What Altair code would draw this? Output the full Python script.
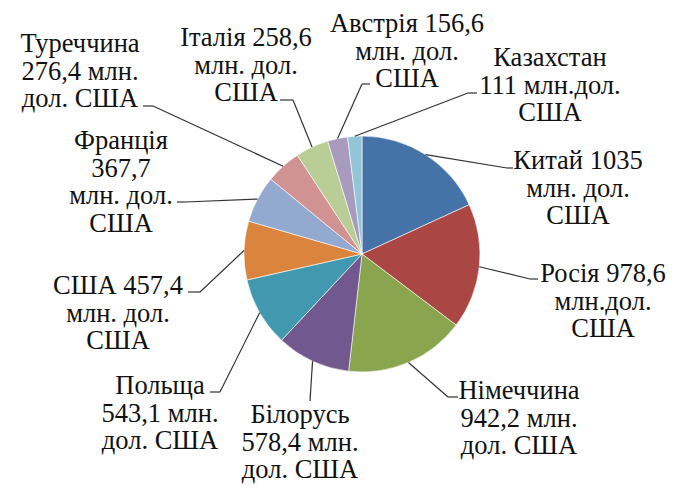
import altair as alt
import pandas as pd

# ---- data ----
countries = ["Китай", "Росія", "Німеччина", "Білорусь", "Польща", "США",
             "Франція", "Туреччина", "Італія", "Австрія", "Казахстан"]
values = [1035, 978.6, 942.2, 578.4, 543.1, 457.4, 367.7, 276.4, 258.6, 156.6, 111]
labels = [
    ["Китай 1035", "млн. дол.", "США"],
    ["Росія 978,6", "млн.дол.", "США"],
    ["Німеччина", "942,2 млн.", "дол. США"],
    ["Білорусь", "578,4 млн.", "дол. США"],
    ["Польща", "543,1 млн.", "дол. США"],
    ["США 457,4", "млн. дол.", "США"],
    ["Франція", "367,7", "млн. дол.", "США"],
    ["Туреччина", "276,4 млн.", "дол. США"],
    ["Італія 258,6", "млн. дол.", "США"],
    ["Австрія 156,6", "млн. дол.", "США"],
    ["Казахстан", "111 млн.дол.", "США"],
]
colors = ["#4572A7", "#AA4643", "#89A54E", "#71588F", "#4198AF", "#DB843D",
          "#93A9CF", "#D19392", "#B9CD96", "#A99BBD", "#92C5D7"]

# ---- layout (page pixels) ----
M = 8
CX, CY, R = 362, 254, 118
label_x = [578, 603, 519, 300, 160, 118, 121, 80, 246, 407, 550]
label_y = [160, 273, 390, 414, 385, 285, 140, 43, 37, 23, 57]
elbow_x = [507, 530, 448, 310, 220, 200, 185, 153, 293, 362, 468]
elbow_y = [168, 279, 397, 401, 392, 292, 202, 106, 100, 84, 93]
end_x = [513, 538, 458, 310, 210, 188, 177, 143, 280, 370, 477]
end_y = [168, 279, 397, 401, 392, 292, 202, 106, 100, 84, 93]
LINE_H = 27.8
FONT_SIZE = 26.5
CAP_OFF = 8.8
FONT = "Liberation Serif"

df = pd.DataFrame({
    "idx": list(range(len(countries))),
    "country": countries,
    "value": values,
    "ex1": [v - M for v in elbow_x],
    "ey1": [v - M for v in elbow_y],
    "ex2": [v - M for v in end_x],
    "ey2": [v - M for v in end_y],
})

rows = []
for i, lines in enumerate(labels):
    for j, t in enumerate(lines):
        rows.append({"text": t, "tx": label_x[i] - M,
                     "ty": label_y[i] - M + CAP_OFF + j * LINE_H})
tdf = pd.DataFrame(rows)

pie = alt.Chart(df).mark_arc(radius=R, stroke="#ffffff", strokeWidth=0.6).encode(
    theta=alt.Theta("value:Q", stack=True),
    order=alt.Order("idx:Q", sort="ascending"),
    color=alt.Color("country:N", scale=alt.Scale(domain=countries, range=colors), legend=None),
    x=alt.value(CX - M),
    y=alt.value(CY - M),
)

base = alt.Chart(df).transform_joinaggregate(
    total="sum(value)"
).transform_window(
    cum="sum(value)", sort=[alt.SortField("idx", order="ascending")], frame=[None, 0]
).transform_calculate(
    mid="(datum.cum - datum.value / 2) / datum.total * 2 * PI"
).transform_calculate(
    sx=f"{CX - M} + {R} * sin(datum.mid)",
    sy=f"{CY - M} - {R} * cos(datum.mid)",
)

lead1 = base.mark_rule(color="#333333", strokeWidth=1.2).encode(
    x=alt.X("sx:Q", scale=None, axis=None),
    y=alt.Y("sy:Q", scale=None, axis=None),
    x2="ex1:Q", y2="ey1:Q",
)
lead2 = alt.Chart(df).mark_rule(color="#333333", strokeWidth=1.2).encode(
    x=alt.X("ex1:Q", scale=None, axis=None),
    y=alt.Y("ey1:Q", scale=None, axis=None),
    x2="ex2:Q", y2="ey2:Q",
)

text = alt.Chart(tdf).mark_text(
    font=FONT, fontSize=FONT_SIZE, align="center",
    baseline="alphabetic", color="#111111"
).encode(
    x=alt.X("tx:Q", scale=None, axis=None),
    y=alt.Y("ty:Q", scale=None, axis=None),
    text="text:N",
)

chart = alt.layer(pie, lead1, lead2, text).properties(
    width=661, height=477,
    autosize=alt.AutoSizeParams(type="none"),
    padding=0,
    background="#ffffff",
).configure_view(stroke=None)

chart.save("out.html", embed_options={"renderer": "svg", "actions": False})
